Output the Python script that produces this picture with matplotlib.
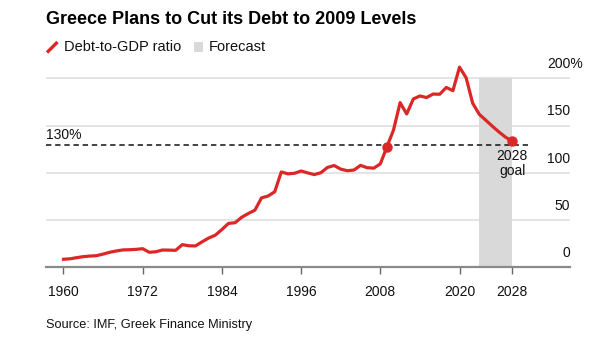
import matplotlib
matplotlib.use("Agg")
import matplotlib.pyplot as plt
from matplotlib.lines import Line2D
from matplotlib.patches import Rectangle
import matplotlib.transforms as mtransforms

plt.rcParams['font.family'] = ['Liberation Sans', 'DejaVu Sans']

# ---- data ----
years = list(range(1960, 2029))
debt_ratio = [
    8.5, 9.0, 10.2, 11.3, 11.9, 12.3, 14.0, 15.9, 17.3, 18.4,   # 1960-1969
    18.6, 19.0, 19.7, 15.9, 16.5, 18.3, 18.2, 18.0, 24.0, 22.8, # 1970-1979
    22.6, 27.0, 31.0, 34.0, 40.0, 46.5, 47.2, 53.0, 57.0, 60.5, # 1980-1989
    73.5, 75.5, 80.0, 101.0, 99.0, 99.6, 102.0, 100.0, 98.2, 100.2, # 1990-1999
    105.8, 107.8, 104.0, 102.3, 103.0, 108.0, 105.5, 105.0, 109.5, 127.5, # 2000-2009
    145.4, 174.4, 162.4, 178.3, 181.5, 179.8, 183.5, 183.3, 190.5, 187.1, # 2010-2019
    212.0, 200.8, 173.7, 162.0, 155.7, 149.3, 143.2, 137.7, 133.5,  # 2020-2028
]
highlight_years = [2009, 2028]
forecast_span = (2023, 2028)
goal_value = 130
xtick_years = [1960, 1972, 1984, 1996, 2008, 2020, 2028]
ytick_values = [0, 50, 100, 150, 200]
ytick_labels = ['0', '50', '100', '150', '200%']

title = "Greece Plans to Cut its Debt to 2009 Levels"
legend_labels = ["Debt-to-GDP ratio", "Forecast"]
source = "Source: IMF, Greek Finance Ministry"

RED = '#dc2727'
GRAY_FC = '#d9d9d9'
GRID = '#e2e2e2'

W, H = 607, 347
fig = plt.figure(figsize=(W / 100, H / 100), dpi=100)

def fx(x):
    return x / W

def fy(y):
    return 1 - y / H

ax_left, ax_right, ax_top, ax_bottom = 46, 570, 59.6, 267.3
ax = fig.add_axes([fx(ax_left), fy(ax_bottom), (ax_right - ax_left) / W, (ax_bottom - ax_top) / H])
ax.set_xlim(1957.35, 2036.74)
ax.set_ylim(0, 220)
ax.patch.set_alpha(0)

for s in ['top', 'right', 'left']:
    ax.spines[s].set_visible(False)
ax.spines['bottom'].set_color('#8a8a8a')
ax.spines['bottom'].set_linewidth(1.6)
ax.spines['bottom'].set_zorder(5)

# gridlines
for v in ytick_values[1:]:
    ax.axhline(v, color=GRID, lw=1.3, zorder=0)

# forecast shading
ax.axvspan(forecast_span[0], forecast_span[1], ymin=0, ymax=200 / 220, color=GRAY_FC, lw=0, zorder=1)

# goal dashed line
ax.axhline(goal_value, xmin=0, xmax=(531 - ax_left) / (ax_right - ax_left), color='#111111',
           lw=1.1, dashes=(3.5, 2.5), zorder=2)

# main line
ax.plot(years, debt_ratio, color=RED, lw=2.3, solid_joinstyle='round', zorder=3)
hv = [debt_ratio[years.index(y)] for y in highlight_years]
ax.plot(highlight_years, hv, 'o', color=RED, ms=6.5, zorder=4)

# x ticks
ax.set_xticks(xtick_years)
ax.set_xticklabels([str(y) for y in xtick_years])
ax.tick_params(axis='x', length=5, width=1, color='#666666', pad=8, labelsize=10, labelcolor='#111111')
ax.set_yticks([])

# right y labels above gridlines
trans = mtransforms.blended_transform_factory(ax.transAxes, ax.transData)
for v, lab in zip(ytick_values, ytick_labels):
    dx = 12.5 if lab.endswith('%') else 0
    t = mtransforms.offset_copy(trans, fig=fig, x=dx * 72 / 100, y=14.3 * 72 / 100, units='points')
    ax.text(1.0, v, lab, transform=t, ha='right', va='center', fontsize=10, color='#111111')

# goal labels
ax.text(0.0, goal_value, '130%', transform=mtransforms.offset_copy(trans, fig=fig, x=0, y=9.5 * 72 / 100, units='points'),
        ha='left', va='center', fontsize=10, color='#111111')
ax.text(2028, goal_value, '2028', transform=mtransforms.offset_copy(ax.transData, fig=fig, x=0, y=-11 * 72 / 100, units='points'),
        ha='center', va='center', fontsize=10, color='#111111')
ax.text(2028, goal_value, 'goal', transform=mtransforms.offset_copy(ax.transData, fig=fig, x=0, y=-26.5 * 72 / 100, units='points'),
        ha='center', va='center', fontsize=10, color='#111111')

# title
fig.text(fx(46), fy(20), title, ha='left', va='center', fontsize=13.0, fontweight='bold', color='#000000')

# legend
fig.add_artist(Line2D([fx(47), fx(57.5)], [fy(52.5), fy(42)], color=RED, lw=2.4, solid_capstyle='butt'))
fig.text(fx(64), fy(47), legend_labels[0], ha='left', va='center', fontsize=10.5, color='#111111')
fig.add_artist(Rectangle((fx(194), fy(52)), 9.5 / W, 9.5 / H, color=GRAY_FC, lw=0, transform=fig.transFigure))
fig.text(fx(209), fy(47), legend_labels[1], ha='left', va='center', fontsize=10.5, color='#111111')

# source
fig.text(fx(46), fy(325), source, ha='left', va='center', fontsize=9.2, color='#111111')

fig.savefig('out.png', dpi=100)
